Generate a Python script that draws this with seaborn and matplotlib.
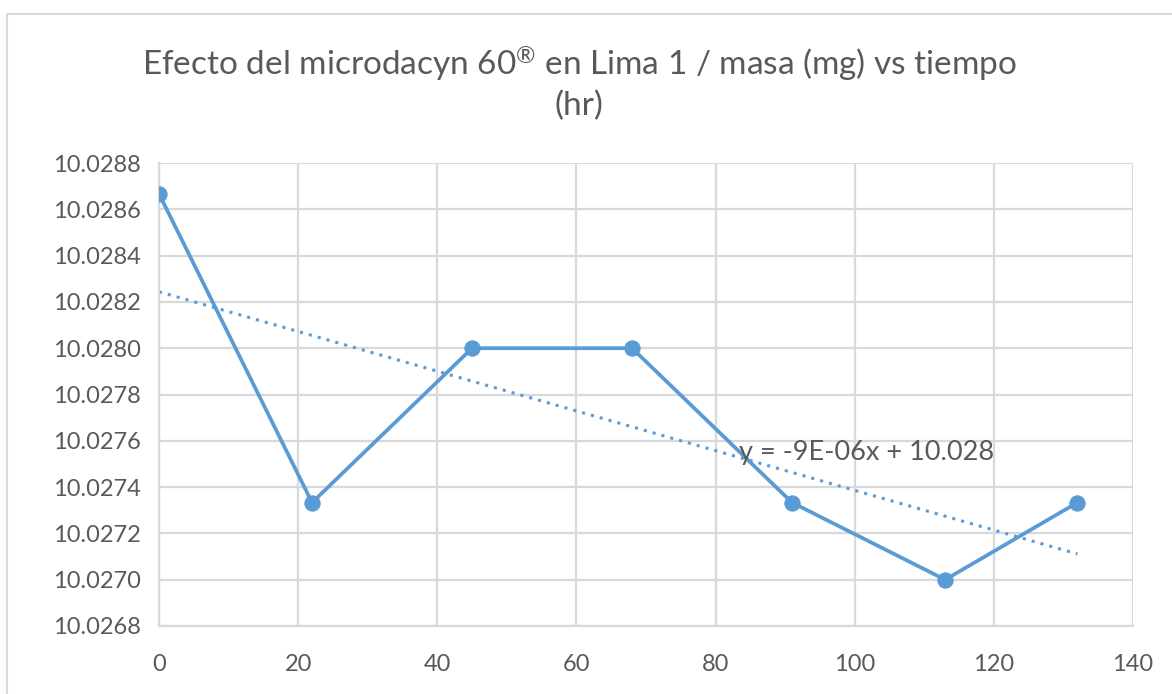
import numpy as np
import pandas as pd
import seaborn as sns
import matplotlib.pyplot as plt
from matplotlib.lines import Line2D

# datos
tiempo_hr = [0, 22, 45, 68, 91, 113, 132]
masa_mg = [10.028667, 10.027333, 10.028, 10.028, 10.027333, 10.027, 10.027333]
x_ticks = [0, 20, 40, 60, 80, 100, 120, 140]
y_ticks = [10.0268, 10.0270, 10.0272, 10.0274, 10.0276, 10.0278,
           10.0280, 10.0282, 10.0284, 10.0286, 10.0288]

titulo = "Efecto del microdacyn 60$^{®}$ en Lima 1 / masa (mg) vs tiempo\n(hr)"
ecuacion = "y = -9E-06x + 10.028"

azul = '#5B9BD5'
gris_texto = '#595959'
gris_rejilla = '#D9D9D9'

df = pd.DataFrame({'tiempo': tiempo_hr, 'masa': masa_mg})

sns.set_theme(style="white")
plt.rcParams['font.family'] = ['Lato', 'DejaVu Sans']
plt.rcParams['mathtext.fontset'] = 'custom'
plt.rcParams['mathtext.rm'] = 'Lato'
plt.rcParams['mathtext.default'] = 'regular'

fig = plt.figure(figsize=(11.72, 6.94), dpi=100)
ax = fig.add_axes([159 / 1172, 1 - 626 / 694, (1133 - 159) / 1172, (626 - 163) / 694])

# linea de tendencia (regresion lineal)
sns.regplot(x='tiempo', y='masa', data=df, ax=ax, scatter=False, ci=None,
            truncate=True, color=azul,
            line_kws={'linestyle': (0, (1, 2)), 'linewidth': 2.2})

# serie principal
sns.lineplot(x='tiempo', y='masa', data=df, ax=ax, color=azul, linewidth=2.7,
             marker='o', markersize=11, markeredgecolor=azul, zorder=3)

ax.set_xlim(0, 140)
ax.set_ylim(10.0268, 10.0288)
ax.set_xticks(x_ticks)
ax.set_yticks(y_ticks)
ax.set_xticklabels([str(t) for t in x_ticks])
ax.set_yticklabels([f"{t:.4f}" for t in y_ticks])
ax.tick_params(axis='both', length=0, labelsize=17, colors=gris_texto)
ax.tick_params(axis='y', pad=13)
ax.tick_params(axis='x', pad=20)
ax.set_xlabel('')
ax.set_ylabel('')

ax.grid(True, color=gris_rejilla, linewidth=1.6)
ax.set_axisbelow(True)
for lado in ['top', 'right']:
    ax.spines[lado].set_visible(False)
for lado in ['left', 'bottom']:
    ax.spines[lado].set_color(gris_rejilla)
    ax.spines[lado].set_linewidth(1.6)

ax.text(83.3, 10.02755, ecuacion, fontsize=19.5, color=gris_texto, va='center', ha='left')

fig.text(579 / 1172, 1 - 83 / 694, titulo, ha='center', va='center',
         fontsize=24, color=gris_texto, linespacing=1.3)

# borde del area del grafico
borde = '#D9D9D9'
fig.add_artist(Line2D([7 / 1172, 7 / 1172], [0, 1 - 14 / 694], transform=fig.transFigure,
                      color=borde, linewidth=1.5))
fig.add_artist(Line2D([7 / 1172, 1], [1 - 14 / 694, 1 - 14 / 694], transform=fig.transFigure,
                      color=borde, linewidth=1.5))

fig.savefig('out.png', dpi=100)
